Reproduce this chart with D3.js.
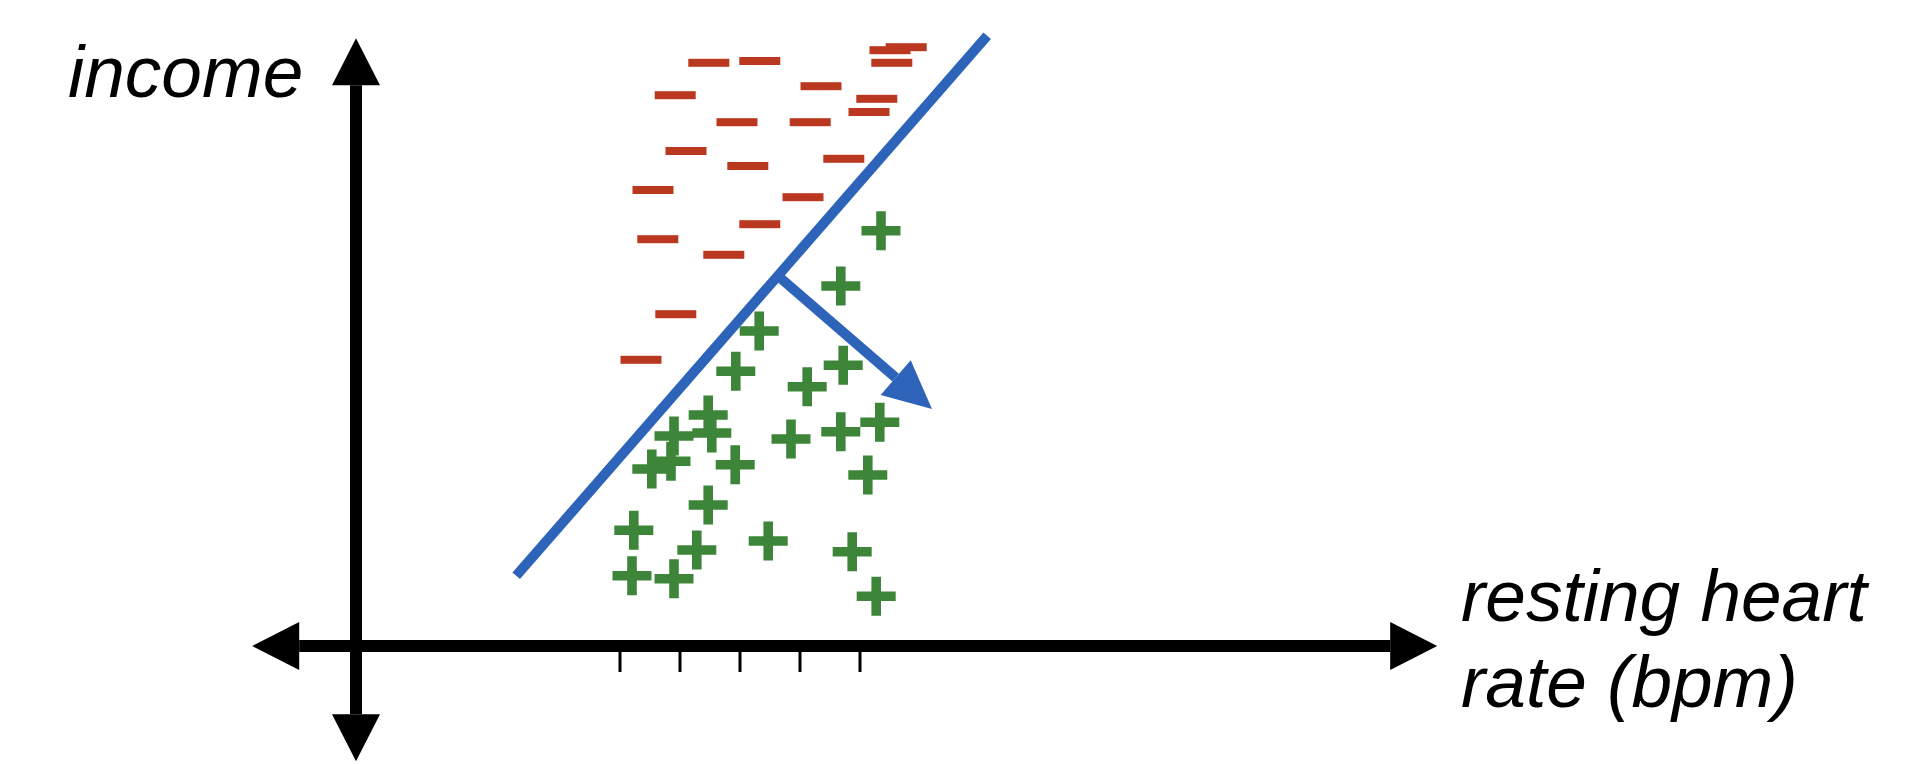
<!DOCTYPE html>
<html lang="en">
    <head>
        <meta charset="UTF-8" />
        <title>Linear classifier</title>
        <script src="https://d3js.org/d3.v7.min.js"></script>
        <style>
            body {
                margin: 0;
                background: #fff;
            }
            .label {
                font-family: "Liberation Sans", Arial, sans-serif;
                font-style: italic;
                font-size: 73px;
                fill: #000;
            }
        </style>
    </head>
    <body>
        <svg width="1924" height="764"></svg>

        <script>
            const width = 1924,
                height = 764;

            // negative examples (x = resting heart rate, y = income)
            const minusX = [89.0, 91.7, 89.3, 58.8, 67.3, 77.5, 53.2, 86.8, 85.5, 63.5, 75.7,
                55.0, 65.3, 81.3, 49.5, 74.5, 67.3, 50.3, 61.3, 53.3, 47.5];
            const minusY = [99.3, 99.8, 97.2, 97.2, 97.5, 93.3, 91.8, 91.2, 89.0, 87.3, 87.3,
                82.5, 80.0, 81.2, 76.0, 74.8, 70.3, 67.8, 65.2, 55.3, 47.7];

            // positive examples
            const plusX = [87.5, 80.8, 67.2, 63.3, 81.2, 75.2, 58.7, 59.3, 53.0, 52.5, 49.3, 63.2,
                72.5, 80.8, 87.3, 85.3, 58.7, 46.3, 56.8, 68.7, 82.7, 46.0, 53.0, 86.7];
            const plusY = [69.2, 60.0, 52.5, 45.8, 46.8, 43.2, 38.5, 35.5, 35.0, 30.8, 29.5, 30.2,
                34.5, 35.7, 37.3, 28.5, 23.5, 19.3, 16.0, 17.5, 15.7, 11.7, 11.2, 8.3];

            // decision boundary and its normal vector
            const boundary = [[26.7, 11.7], [105.2, 101.7]];
            const normal = [[70.3, 61.7], [96.0, 39.5]];

            // tick marks on the heart rate axis (no labels)
            const xTicks = [44, 54, 64, 74, 84];

            // axis extents (arrow tips)
            const xExtent = [-17.3, 180.2];
            const yExtent = [-19.2, 101.3];

            const x = d3.scaleLinear().domain([0, 100]).range([356, 956]);
            const y = d3.scaleLinear().domain([0, 100]).range([646, 46]);

            const svg = d3.select("svg");

            const red = "#b9381f",
                green = "#3d8539",
                blue = "#2d64b9";

            // arrow head polygon pointing from (x1,y1) to tip (x2,y2)
            function head(x1, y1, x2, y2, len, half) {
                const dx = x2 - x1,
                    dy = y2 - y1,
                    d = Math.hypot(dx, dy),
                    ux = dx / d,
                    uy = dy / d;
                const bx = x2 - ux * len,
                    by = y2 - uy * len;
                return [
                    [x2, y2],
                    [bx - uy * half, by + ux * half],
                    [bx + uy * half, by - ux * half],
                ];
            }

            const axes = svg.append("g").attr("class", "axes");
            const headLen = 47,
                headHalf = 24;

            // horizontal axis
            axes.append("line")
                .attr("x1", x(xExtent[0]) + headLen)
                .attr("x2", x(xExtent[1]) - headLen)
                .attr("y1", y(0))
                .attr("y2", y(0))
                .attr("stroke", "#000")
                .attr("stroke-width", 12);
            // vertical axis
            axes.append("line")
                .attr("x1", x(0))
                .attr("x2", x(0))
                .attr("y1", y(yExtent[1]) + headLen)
                .attr("y2", y(yExtent[0]) - headLen)
                .attr("stroke", "#000")
                .attr("stroke-width", 12);

            const heads = [
                head(x(0), y(0), x(xExtent[0]), y(0), headLen, headHalf),
                head(x(0), y(0), x(xExtent[1]), y(0), headLen, headHalf),
                head(x(0), y(0), x(0), y(yExtent[1]), headLen, headHalf),
                head(x(0), y(0), x(0), y(yExtent[0]), headLen, headHalf),
            ];
            axes.selectAll("polygon")
                .data(heads)
                .enter()
                .append("polygon")
                .attr("points", (d) => d.map((p) => p.join(",")).join(" "))
                .attr("fill", "#000");

            // ticks
            axes.selectAll(".tick")
                .data(xTicks)
                .enter()
                .append("line")
                .attr("class", "tick")
                .attr("x1", (d) => x(d))
                .attr("x2", (d) => x(d))
                .attr("y1", y(0) + 5)
                .attr("y2", y(0) + 26)
                .attr("stroke", "#000")
                .attr("stroke-width", 3);

            // labels
            svg.append("text")
                .attr("class", "label")
                .attr("x", 68)
                .attr("y", 97)
                .text("income");
            const xl = svg.append("text").attr("class", "label");
            xl.append("tspan").attr("x", 1461).attr("y", 621).text("resting heart");
            xl.append("tspan").attr("x", 1461).attr("y", 707).text("rate (bpm)");

            // negative examples
            const minus = d3.range(minusX.length).map((i) => ({ x: minusX[i], y: minusY[i] }));
            svg.append("g")
                .selectAll("rect")
                .data(minus)
                .enter()
                .append("rect")
                .attr("x", (d) => x(d.x) - 20.5)
                .attr("y", (d) => y(d.y) - 4)
                .attr("width", 41)
                .attr("height", 8)
                .attr("fill", red);

            // positive examples
            const plus = d3.range(plusX.length).map((i) => ({ x: plusX[i], y: plusY[i] }));
            const arm = 19.5,
                t = 4.8;
            svg.append("g")
                .selectAll("path")
                .data(plus)
                .enter()
                .append("path")
                .attr("d", (d) => {
                    const cx = x(d.x),
                        cy = y(d.y);
                    return (
                        `M${cx - arm},${cy - t}H${cx - t}V${cy - arm}H${cx + t}V${cy - t}` +
                        `H${cx + arm}V${cy + t}H${cx + t}V${cy + arm}H${cx - t}V${cy + t}H${cx - arm}Z`
                    );
                })
                .attr("fill", green);

            // decision boundary
            svg.append("line")
                .attr("x1", x(boundary[0][0]))
                .attr("y1", y(boundary[0][1]))
                .attr("x2", x(boundary[1][0]))
                .attr("y2", y(boundary[1][1]))
                .attr("stroke", blue)
                .attr("stroke-width", 10);

            // normal vector
            const nx1 = x(normal[0][0]),
                ny1 = y(normal[0][1]),
                nx2 = x(normal[1][0]),
                ny2 = y(normal[1][1]);
            const nh = head(nx1, ny1, nx2, ny2, 48, 23);
            svg.append("line")
                .attr("x1", nx1)
                .attr("y1", ny1)
                .attr("x2", (nh[1][0] + nh[2][0]) / 2)
                .attr("y2", (nh[1][1] + nh[2][1]) / 2)
                .attr("stroke", blue)
                .attr("stroke-width", 10);
            svg.append("polygon")
                .attr("points", nh.map((p) => p.join(",")).join(" "))
                .attr("fill", blue);
        </script>
    </body>
</html>
